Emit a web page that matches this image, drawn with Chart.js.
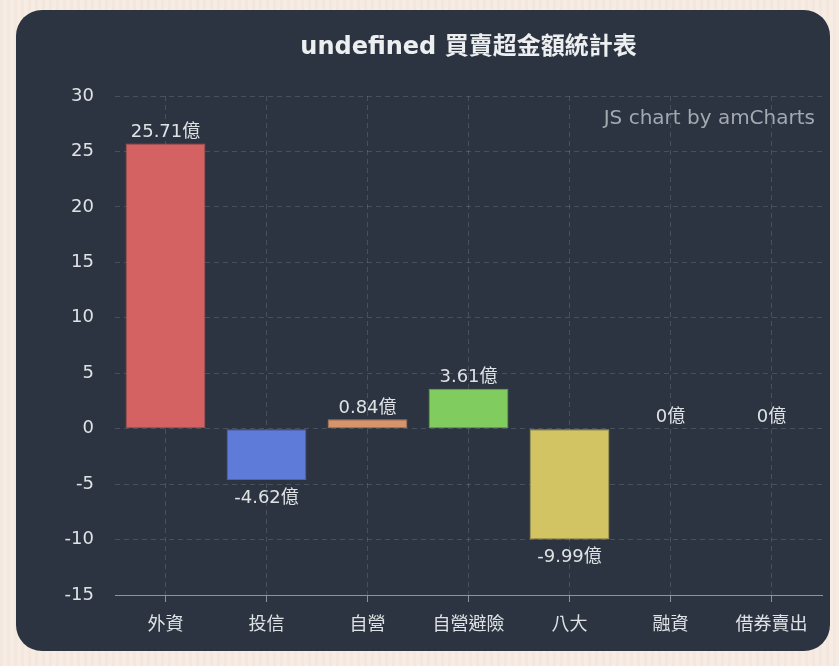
<!DOCTYPE html>
<html>
<head>
<meta charset="utf-8">
<script src="https://cdn.jsdelivr.net/npm/chart.js@4.4.1/dist/chart.umd.min.js"></script>
<style>
  html, body { margin: 0; padding: 0; }
  body {
    width: 839px; height: 666px; overflow: hidden;
    background: #f6ebe2;
    background-image: repeating-linear-gradient(90deg, rgba(200,160,130,0.05) 0 3px, rgba(255,255,255,0.05) 3px 7px);
  }
  #card {
    position: absolute; left: 16px; top: 10px;
    width: 814px; height: 641px;
    background: #2b3440; border-radius: 26px; overflow: hidden;
  }
  #chart { display: block; }
</style>
</head>
<body>
<div id="card"><canvas id="chart" width="814" height="641"></canvas></div>
<script>
// ── Dados ─────────────────────────────────────────────
const categorias = ['外資', '投信', '自營', '自營避險', '八大', '融資', '借券賣出'];
const valores    = [25.71, -4.62, 0.84, 3.61, -9.99, 0, 0];
const cores      = ['#d46262', '#5f7bd9', '#d7946b', '#80cc5e', '#d3c463', '#c767dc', '#dc67ab'];
const bordas     = ['#b05050', '#6a5a9a', '#b07a5a', '#6aa84c', '#b0a050', '#8a5a70', '#8a5a70'];
const yTicks     = [30, 25, 20, 15, 10, 5, 0, -5, -10, -15];
const titulo     = 'undefined 買賣超金額統計表';
const marca      = 'JS chart by amCharts';

const FONT = "'DejaVu Sans', 'Noto Sans CJK TC', sans-serif";
const TEXT = '#dfe2e5';
const GRID = 'rgba(255,255,255,0.14)';

// título + marca d'água centrados na área do gráfico
const extras = {
  id: 'extras',
  afterDraw(chart) {
    const { ctx, chartArea: a } = chart;
    ctx.save();
    ctx.fillStyle = '#eceef0';
    ctx.font = `bold 24px ${FONT}`;
    ctx.textAlign = 'center';
    ctx.textBaseline = 'middle';
    ctx.fillText(titulo, (a.left + a.right) / 2, 38);
    ctx.fillStyle = '#a3a9b0';
    ctx.font = `20px ${FONT}`;
    ctx.textAlign = 'right';
    ctx.fillText(marca, a.right - 7, 109);
    ctx.restore();
  }
};

// rótulos de valor
const rotulos = {
  id: 'rotulos',
  afterDatasetsDraw(chart) {
    const { ctx } = chart;
    const meta = chart.getDatasetMeta(0);
    ctx.save();
    ctx.fillStyle = TEXT;
    ctx.font = `18px ${FONT}`;
    ctx.textAlign = 'center';
    meta.data.forEach((bar, i) => {
      const v = valores[i];
      const txt = v + '億';
      if (v < 0) {
        ctx.textBaseline = 'top';
        ctx.fillText(txt, bar.x, bar.y + 9);
      } else {
        ctx.textBaseline = 'bottom';
        ctx.fillText(txt, bar.x, bar.y - 2);
      }
    });
    ctx.restore();
  }
};

new Chart(document.getElementById('chart'), {
  type: 'bar',
  data: {
    labels: categorias,
    datasets: [{
      data: valores,
      backgroundColor: cores,
      borderColor: bordas,
      borderWidth: 1,
      borderSkipped: false,
      barPercentage: 0.79,
      categoryPercentage: 1
    }]
  },
  options: {
    responsive: false,
    animation: false,
    layout: { padding: { top: 86, right: 8, left: 0, bottom: 0 } },
    plugins: {
      legend: { display: false },
      tooltip: { enabled: false }
    },
    scales: {
      x: {
        offset: true,
        afterFit: axis => { axis.height = 56; },
        grid: {
          offset: false,
          color: GRID,
          drawTicks: true,
          tickLength: 7,
          tickColor: '#8d949b',
          tickBorderDash: []
        },
        border: { display: true, color: '#8d949b', width: 1, dash: [5, 4] },
        ticks: { color: TEXT, font: { family: FONT, size: 18 }, padding: 13 }
      },
      y: {
        min: -15, max: 30,
        afterBuildTicks: axis => { axis.ticks = yTicks.map(v => ({ value: v })); },
        afterFit: axis => { axis.width = 99; },
        grid: { color: GRID, drawTicks: false },
        border: { display: false, dash: [5, 4] },
        ticks: { color: TEXT, font: { family: FONT, size: 18 }, padding: 21 }
      }
    }
  },
  plugins: [extras, rotulos]
});
</script>
</body>
</html>
